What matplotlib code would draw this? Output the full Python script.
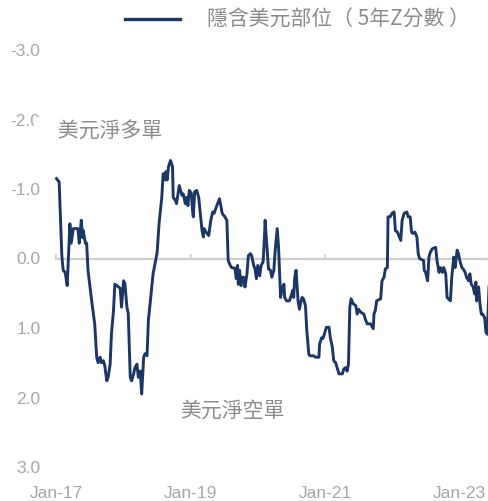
from datetime import datetime, timedelta

import matplotlib
matplotlib.use("Agg")
import matplotlib.dates as mdates
import matplotlib.pyplot as plt
import matplotlib.transforms as mtransforms
from matplotlib.ticker import FormatStrFormatter

# decimal-year positions and implied USD position z-score
years = [
    2017.00, 2017.04, 2017.08, 2017.10, 2017.13, 2017.16, 2017.20, 2017.22, 2017.25, 2017.32,
    2017.34, 2017.37, 2017.39, 2017.40, 2017.43, 2017.45, 2017.47, 2017.50, 2017.53, 2017.57,
    2017.60, 2017.62, 2017.65, 2017.67, 2017.70, 2017.72, 2017.75, 2017.77, 2017.80, 2017.82,
    2017.85, 2017.87, 2017.90, 2017.95, 2017.97, 2018.00, 2018.02, 2018.05, 2018.07, 2018.10,
    2018.12, 2018.15, 2018.17, 2018.20, 2018.22, 2018.25, 2018.27, 2018.30, 2018.32, 2018.35,
    2018.37, 2018.40, 2018.44, 2018.50, 2018.53, 2018.57, 2018.59, 2018.62, 2018.63, 2018.65,
    2018.67, 2018.70, 2018.73, 2018.74, 2018.77, 2018.79, 2018.83, 2018.87, 2018.89, 2018.92,
    2018.94, 2018.96, 2018.98, 2019.01, 2019.03, 2019.04, 2019.06, 2019.09, 2019.12, 2019.14,
    2019.17, 2019.19, 2019.20, 2019.23, 2019.27, 2019.30, 2019.33, 2019.35, 2019.39, 2019.43,
    2019.45, 2019.47, 2019.51, 2019.54, 2019.56, 2019.59, 2019.61, 2019.66, 2019.68, 2019.70,
    2019.71, 2019.73, 2019.75, 2019.76, 2019.79, 2019.81, 2019.84, 2019.86, 2019.89, 2019.91,
    2019.94, 2019.96, 2019.98, 2020.00, 2020.03, 2020.05, 2020.08, 2020.10, 2020.11, 2020.14,
    2020.16, 2020.19, 2020.21, 2020.24, 2020.26, 2020.29, 2020.31, 2020.34, 2020.36, 2020.39,
    2020.40, 2020.43, 2020.47, 2020.50, 2020.52, 2020.535, 2020.55, 2020.57, 2020.59, 2020.60,
    2020.62, 2020.64, 2020.66, 2020.68, 2020.71, 2020.73, 2020.76, 2020.78, 2020.83, 2020.86,
    2020.91, 2020.92, 2020.95, 2020.97, 2020.99, 2021.02, 2021.06, 2021.08, 2021.11, 2021.13,
    2021.16, 2021.18, 2021.21, 2021.26, 2021.28, 2021.31, 2021.33, 2021.35, 2021.37, 2021.39,
    2021.42, 2021.46, 2021.48, 2021.50, 2021.53, 2021.58, 2021.60, 2021.63, 2021.68, 2021.72,
    2021.73, 2021.75, 2021.77, 2021.83, 2021.85, 2021.88, 2021.90, 2021.93, 2021.94, 2021.97,
    2022.00, 2022.03, 2022.05, 2022.08, 2022.13, 2022.15, 2022.18, 2022.22, 2022.24, 2022.27,
    2022.29, 2022.31, 2022.34, 2022.37, 2022.39, 2022.41, 2022.47, 2022.48, 2022.50, 2022.53,
    2022.55, 2022.57, 2022.60, 2022.65, 2022.67, 2022.70, 2022.72, 2022.75, 2022.77, 2022.80,
    2022.82, 2022.84, 2022.87, 2022.89, 2022.92, 2022.94, 2022.97, 2022.99, 2023.01, 2023.04,
    2023.06, 2023.09, 2023.11, 2023.14, 2023.16, 2023.18, 2023.21, 2023.23, 2023.25, 2023.26,
    2023.29, 2023.31, 2023.33, 2023.35, 2023.38, 2023.40, 2023.42, 2023.445,
]
zscore = [
    -1.15, -1.10, -0.04, 0.17, 0.20, 0.39, -0.50, -0.22, -0.43, -0.43,
    -0.22, -0.55, -0.30, -0.40, -0.22, -0.22, 0.17, 0.41, 0.65, 0.94,
    1.42, 1.50, 1.42, 1.50, 1.47, 1.54, 1.76, 1.71, 1.52, 1.08,
    0.75, 0.37, 0.39, 0.43, 0.70, 0.32, 0.36, 0.70, 0.79, 1.71,
    1.76, 1.66, 1.57, 1.52, 1.71, 1.62, 1.95, 1.42, 1.37, 1.40,
    0.89, 0.61, 0.22, -0.08, -0.51, -0.88, -1.22, -1.13, -1.25, -1.13,
    -1.32, -1.41, -1.32, -0.88, -0.84, -0.79, -1.05, -0.91, -0.93, -0.79,
    -0.88, -0.76, -0.98, -0.94, -0.67, -0.60, -0.96, -0.98, -0.88, -0.69,
    -0.40, -0.31, -0.43, -0.38, -0.33, -0.55, -0.67, -0.65, -0.76, -0.86,
    -0.76, -0.65, -0.60, -0.55, 0.03, 0.10, 0.13, 0.14, 0.29, 0.10,
    0.37, 0.17, 0.39, 0.27, 0.27, 0.41, 0.22, -0.04, -0.07, -0.04,
    0.10, 0.15, 0.29, 0.10, 0.25, 0.10, 0.05, -0.31, -0.55, -0.12,
    0.15, 0.17, 0.27, 0.17, -0.12, -0.43, -0.16, 0.56, 0.44, 0.37,
    0.56, 0.61, 0.61, 0.53, 0.46, 0.56, 0.27, 0.17, 0.46, 0.61,
    0.73, 0.63, 0.56, 0.58, 0.68, 1.04, 1.38, 1.40, 1.40, 1.42,
    1.42, 1.23, 1.14, 1.15, 1.09, 0.99, 0.99, 1.14, 1.28, 1.47,
    1.50, 1.57, 1.66, 1.66, 1.59, 1.57, 1.62, 1.52, 0.70, 0.58,
    0.65, 0.68, 0.80, 0.73, 0.77, 0.80, 0.87, 0.94, 0.94, 1.01,
    0.80, 0.75, 0.61, 0.58, 0.32, 0.27, 0.15, 0.13, -0.60, -0.60,
    -0.65, -0.67, -0.40, -0.38, -0.26, -0.55, -0.65, -0.67, -0.60, -0.60,
    -0.38, -0.36, -0.38, -0.31, -0.07, 0.00, 0.03, 0.17, 0.20, 0.32,
    -0.02, -0.09, -0.14, -0.16, 0.03, 0.20, 0.13, 0.20, 0.13, 0.22,
    0.56, 0.58, 0.61, 0.27, -0.02, 0.13, -0.12, -0.07, 0.03, 0.13,
    0.15, 0.20, 0.27, 0.32, 0.22, 0.37, 0.41, 0.51, 0.34, 0.61,
    0.41, 0.65, 0.80, 0.80, 0.85, 1.06, 1.09, 0.41,
]
tick_years = [2017, 2019, 2021, 2023]
y_ticks = [-3, -2, -1, 0, 1, 2, 3]
series_label = "隱含美元部位（ 5年Z分數 ）"
long_label = "美元淨多單"
short_label = "美元淨空單"

NAVY = "#1c3766"
GREY_TEXT = "#8c8c8c"
TICK_TEXT = "#a6a6a6"
ZERO_LINE = "#cfcfcf"
CJK = ["Noto Sans CJK TC", "DejaVu Sans"]

plt.rcParams["axes.unicode_minus"] = False
plt.rcParams["font.family"] = ["Liberation Sans", "Noto Sans CJK TC", "DejaVu Sans"]


def to_date(y: float) -> datetime:
    yr = int(y)
    start = datetime(yr, 1, 1)
    span = (datetime(yr + 1, 1, 1) - start).days
    return start + timedelta(days=(y - yr) * span)


dates = [to_date(y) for y in years]
tick_dates = [datetime(y, 1, 1) for y in tick_years]

fig = plt.figure(figsize=(4.89, 5.01), dpi=100)
ax = fig.add_axes([55 / 489, 34 / 501, 434 / 489, 417 / 501])

ax.axhline(0, color=ZERO_LINE, linewidth=1.6, zorder=1)
line, = ax.plot(dates, zscore, color=NAVY, linewidth=2.1, zorder=3, label=series_label)

ax.set_ylim(3, -3)
ax.set_xlim(dates[0] - timedelta(days=8), dates[-1])
ax.set_yticks(y_ticks)
ax.yaxis.set_major_formatter(FormatStrFormatter("%.1f"))
ax.set_xticks(tick_dates)
ax.xaxis.set_major_formatter(mdates.DateFormatter("%b-%y"))
ax.tick_params(axis="y", length=0, pad=10.5, labelsize=12.5, labelcolor=TICK_TEXT)
ax.tick_params(axis="x", length=0, pad=13.5, labelsize=12.5, labelcolor=TICK_TEXT)
for s in ax.spines.values():
    s.set_visible(False)

# small tick marks sitting on the zero line
ax.vlines(tick_dates, 0, -0.06, color=ZERO_LINE, linewidth=1.2, zorder=1)

trans = mtransforms.blended_transform_factory(ax.transAxes, ax.transData)
ax.text(-0.042, -1.83, "\u3000" + long_label, transform=trans, family=CJK, fontsize=15,
        color=GREY_TEXT, va="center", ha="left", clip_on=False, zorder=5,
        bbox=dict(boxstyle="square,pad=0.15", facecolor="white", edgecolor="none"))
ax.text(0.288, 2.19, short_label, transform=trans, family=CJK, fontsize=15,
        color=GREY_TEXT, va="center", ha="left", zorder=5)

leg = fig.legend(handles=[line], loc="upper left", bbox_to_anchor=(125 / 489, 1 - 9 / 501),
                 frameon=False, borderpad=0, borderaxespad=0, handlelength=2.64,
                 handletextpad=1.3, prop={"family": CJK, "size": 15})
leg.get_lines()[0].set_linewidth(2.4)
for t in leg.get_texts():
    t.set_color(GREY_TEXT)

fig.savefig("out.png", dpi=100)
